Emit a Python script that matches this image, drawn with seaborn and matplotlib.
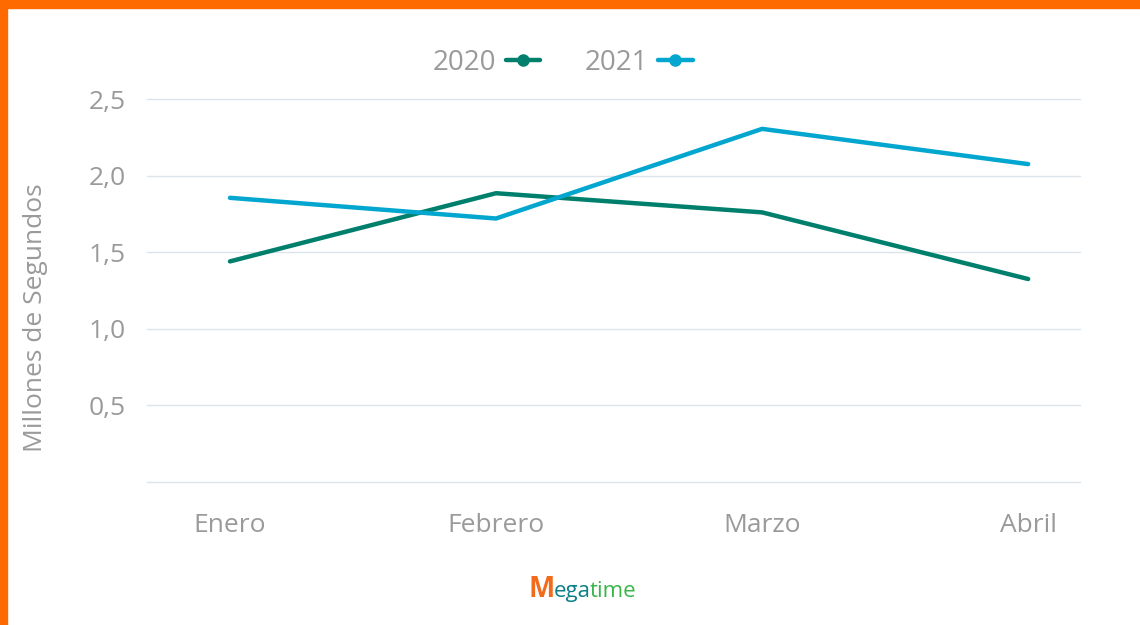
import pandas as pd
import matplotlib.pyplot as plt
import seaborn as sns
from matplotlib.patches import Rectangle
from matplotlib.ticker import FuncFormatter

# data
months = ["Enero", "Febrero", "Marzo", "Abril"]
years = ["2020", "2021"]
values_2020 = [1.44, 1.885, 1.76, 1.325]
values_2021 = [1.855, 1.72, 2.305, 2.075]
yticks = [0.5, 1.0, 1.5, 2.0, 2.5]

df = pd.DataFrame({
    "mes": months * 2,
    "x": list(range(len(months))) * 2,
    "valor": values_2020 + values_2021,
    "anio": [years[0]] * 4 + [years[1]] * 4,
})

sns.set_theme(style="white")
plt.rcParams["font.family"] = ["Open Sans", "DejaVu Sans"]

gray = "#9a9a9a"
palette = {"2020": "#00806c", "2021": "#03a6cf"}
fs = 19

fig = plt.figure(figsize=(11.4, 6.25), dpi=100)
ax = fig.add_axes([0.1289, 0.2288, 0.8185, 0.6128])

sns.lineplot(data=df, x="x", y="valor", hue="anio", palette=palette,
             linewidth=3.2, ax=ax, legend=False)

ax.set_xlim(-0.312, 3.195)
ax.set_ylim(0, 2.5)
ax.set_xticks(range(len(months)))
ax.set_xticklabels(months)
ax.set_yticks(yticks)
ax.yaxis.set_major_formatter(FuncFormatter(lambda v, p: f"{v:.1f}".replace(".", ",")))
ax.tick_params(axis="both", length=0, labelsize=fs, labelcolor=gray)
ax.tick_params(axis="x", pad=22)
ax.tick_params(axis="y", pad=15)
ax.set_xlabel("")
ax.set_ylabel("Millones de Segundos", fontsize=fs, color=gray)
ax.yaxis.label.set_va("center")
ax.yaxis.set_label_coords(-0.119, 0.43)

for v in [0] + yticks:
    ax.axhline(v, color="#dde5ea", linewidth=1.0, zorder=0, clip_on=False)
for s in ax.spines.values():
    s.set_visible(False)

# legend: text first, then line with dot
handles = [plt.Line2D([0], [0], color=palette[y], linewidth=3.2, marker="o",
                      markersize=8) for y in years]
fig.legend(handles, years, loc="center", bbox_to_anchor=(0.4934, 0.9), ncol=2,
           frameon=False, markerfirst=False, fontsize=20, labelcolor=gray,
           handlelength=1.25, handletextpad=0.35, columnspacing=1.6)

# orange frame on top and left
fig.patches.append(Rectangle((0, 0.987), 1, 0.013, transform=fig.transFigure,
                             color="#ff6a00", zorder=10))
fig.patches.append(Rectangle((0, 0), 0.0062, 1, transform=fig.transFigure,
                             color="#ff6a00", zorder=10))

# logo
fig.text(0.464, 0.045, "M", fontsize=20, fontweight="bold", color="#f26a1b")
fig.text(0.4855, 0.045, "ega", fontsize=16, color="#0b7f86")
fig.text(0.5175, 0.045, "time", fontsize=16, color="#3bb54a")

fig.savefig("out.png", dpi=100)
